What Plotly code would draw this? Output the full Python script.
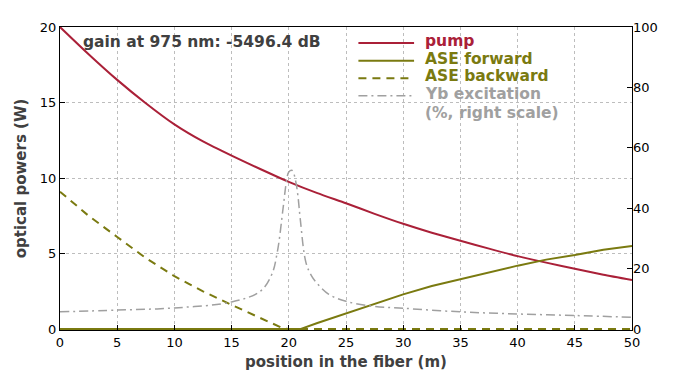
import plotly.graph_objects as go

# ---- data ----
pos = [0, 2.5, 5, 7.5, 10, 12.5, 15, 17.5, 20, 22.5, 25, 27.5, 30, 32.5, 35, 37.5, 40, 42.5, 45, 47.5, 50]
pump = [20, 18.2, 16.5, 14.95, 13.55, 12.42, 11.48, 10.6, 9.75, 9.0, 8.33, 7.63, 6.97, 6.38, 5.85, 5.33, 4.83, 4.4, 4.0, 3.6, 3.25]

ase_fwd_pos = [0, 21, 22.5, 25, 27.5, 30, 32.5, 35, 37.5, 40, 42.5, 45, 47.5, 50]
ase_fwd = [0, 0, 0.4, 1.05, 1.7, 2.3, 2.85, 3.3, 3.8, 4.2, 4.6, 4.9, 5.25, 5.5]

ase_bwd_pos = [0, 2.5, 5, 7.5, 10, 12.5, 15, 17.5, 19.5, 20, 50]
ase_bwd = [9.1, 7.5, 6.1, 4.7, 3.5, 2.5, 1.6, 0.75, 0.05, 0, 0]

yb_pos = [0, 5, 10, 15, 17.5, 18.5, 19, 19.5, 19.8, 20.0, 20.3, 20.6, 20.8, 21, 21.5, 22, 22.5, 23.5, 25, 27.5, 30, 35, 40, 45, 50]
yb = [5.7, 6.3, 7.0, 9.0, 12.5, 18, 25.6, 40, 49, 52, 52.5, 49, 44, 36.5, 22, 17.5, 15, 11.5, 9.2, 7.5, 6.9, 5.7, 5.0, 4.5, 3.9]

series_names = ["pump", "ASE forward", "ASE backward", "Yb excitation", "(%, right scale)"]
title_text = "gain at 975 nm: -5496.4 dB"
x_title = "position in the fiber (m)"
y_title = "optical powers (W)"

PUMP_C = "#aa2038"
ASE_C = "#7a7a10"
YB_C = "#a0a0a0"
DASH = "8px,6px"
DASHDOT = "9px,4px,2px,4px"

fig = go.Figure()
fig.add_trace(go.Scatter(x=pos, y=pump, mode="lines",
                         line=dict(color=PUMP_C, width=2, shape="spline", smoothing=0.6),
                         name=series_names[0], showlegend=False))
fig.add_trace(go.Scatter(x=ase_fwd_pos, y=ase_fwd, mode="lines", line=dict(color=ASE_C, width=2),
                         name=series_names[1], showlegend=False))
fig.add_trace(go.Scatter(x=ase_bwd_pos, y=ase_bwd, mode="lines", line=dict(color=ASE_C, width=2, dash=DASH),
                         name=series_names[2], showlegend=False))
fig.add_trace(go.Scatter(x=yb_pos, y=yb, mode="lines", line=dict(color=YB_C, width=1.5, dash=DASHDOT, shape="spline"),
                         name=series_names[3], yaxis="y2", showlegend=False))

# manual legend (tight line spacing as in the reference)
leg_x0, leg_x1, leg_tx = 0.5217, 0.619, 0.635
TXT_UP = 0.0065
leg_rows = [
    (series_names[0], PUMP_C, "solid", 0.947),
    (series_names[1], ASE_C, "solid", 0.889),
    (series_names[2], ASE_C, DASH, 0.8306),
    (series_names[3], YB_C, DASHDOT, 0.773),
]
for text, col, dash, yy in leg_rows:
    fig.add_shape(type="line", xref="paper", yref="paper", x0=leg_x0, x1=leg_x1, y0=yy, y1=yy,
                  line=dict(color=col, width=2 if col != YB_C else 1.5, dash=dash))
    fig.add_annotation(text=f"<b>{text}</b>", xref="paper", yref="paper", x=leg_tx, y=yy + TXT_UP,
                       xanchor="left", yanchor="middle", showarrow=False,
                       font=dict(size=15.5, color=col))
fig.add_annotation(text=f"<b>{series_names[4]}</b>", xref="paper", yref="paper", x=leg_tx, y=0.711 + TXT_UP,
                   xanchor="left", yanchor="middle", showarrow=False,
                   font=dict(size=15.5, color=YB_C))

fig.add_annotation(text=f"<b>{title_text}</b>", xref="paper", yref="paper", x=0.0365, y=0.945 + TXT_UP,
                   xanchor="left", yanchor="middle", showarrow=False,
                   font=dict(size=15.5, color="#404040"))

axis_common = dict(showline=True, linecolor="black", linewidth=1, mirror=True,
                   ticks="inside", ticklen=5, tickcolor="black",
                   tickfont=dict(size=13, color="black"), zeroline=False)
grid_common = dict(showgrid=True, gridcolor="#bdbdbd", griddash="3px,3px", gridwidth=1)

fig.update_layout(
    width=700, height=375,
    margin=dict(l=49, r=76, t=15, b=53),
    paper_bgcolor="white", plot_bgcolor="white",
    font=dict(family="DejaVu Sans", size=13, color="black"),
    showlegend=False,
    xaxis=dict(range=[0, 50], dtick=5,
               title=dict(text=f"<b>{x_title}</b>", font=dict(size=15, color="#404040"), standoff=7),
               **grid_common, **axis_common),
    yaxis=dict(range=[-0.06, 20], dtick=5,
               title=dict(text=f"<b>{y_title}</b>", font=dict(size=15, color="#404040"), standoff=9),
               **grid_common, **axis_common),
    yaxis2=dict(range=[-0.3, 100], dtick=20, overlaying="y", side="right", showgrid=False,
                showline=False, ticks="inside", ticklen=5, tickcolor="black",
                tickfont=dict(size=13, color="black"), zeroline=False),
)

fig.write_html("out.html")
